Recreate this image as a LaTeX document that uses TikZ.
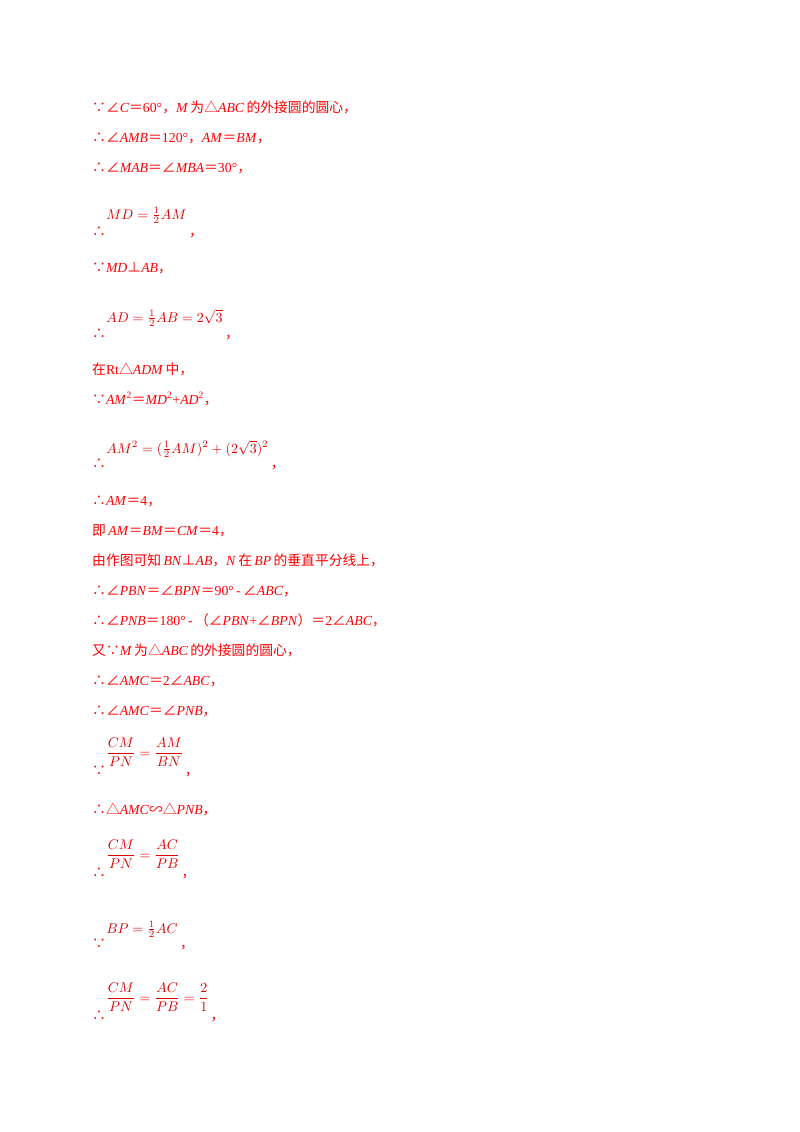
\documentclass[tikz,border=0pt]{standalone}
\usepackage{fontspec}
\usepackage{amsmath}
\setmainfont{Liberation Serif}
\newfontfamily\zh{Noto Sans CJK SC}
\usetikzlibrary{positioning}

\newcommand{\Z}[1]{{\zh #1}}
\newcommand{\I}[1]{\textit{#1}}

\tikzset{
  line/.style={anchor=base west, inner sep=0pt, text=red, font=\fontsize{13.8}{15}\selectfont},
  eqn/.style={anchor=base west, inner sep=0pt, text=red!85!black, scale=1.4},
}

\begin{document}
\begin{tikzpicture}[x=1pt, y=-1pt]
    \useasboundingbox (0, 0) rectangle (800, 1132);

    % plain lines
    \node[line] (l1)  at (92, 112) {\Z{∵}\Z{∠}\I{C}\Z{＝}60°\Z{，}\I{M}\,\Z{为△}\I{ABC}\,\Z{的外接圆的圆心，}};
    \node[line] (l2)  at (92, 142) {\Z{∴∠}\I{AMB}\Z{＝}120°\Z{，}\I{AM}\Z{＝}\I{BM}\Z{，}};
    \node[line] (l3)  at (92, 172) {\Z{∴∠}\I{MAB}\Z{＝∠}\I{MBA}\Z{＝}30°\Z{，}};

    \node[line] (s4)  at (92, 236) {\Z{∴}};
    \node[eqn]  (e4)  at (106, 219) {$MD=\frac{1}{2}AM$};
    \node[line] (c4)  at ([xshift=2pt]e4.east |- s4.base) {\Z{，}};

    \node[line] (l5)  at (92, 272) {\Z{∵}\I{MD}\Z{⊥}\I{AB}\Z{，}};

    \node[line] (s6)  at (92, 338) {\Z{∴}};
    \node[eqn]  (e6)  at (106, 322) {$AD=\frac{1}{2}AB=2\sqrt{3}$};
    \node[line] (c6)  at ([xshift=2pt]e6.east |- s6.base) {\Z{，}};

    \node[line] (l7)  at (92, 374) {\Z{在}Rt\Z{△}\I{ADM}\,\Z{中，}};
    \node[line] (l8)  at (92, 404) {\Z{∵}\I{AM}\textsuperscript{2}\Z{＝}\I{MD}\textsuperscript{2}+\I{AD}\textsuperscript{2}\Z{，}};

    \node[line] (s9)  at (92, 468) {\Z{∴}};
    \node[eqn]  (e9)  at (106, 453) {$AM^2=(\frac{1}{2}AM)^2+(2\sqrt{3})^2$};
    \node[line] (c9)  at ([xshift=2pt]e9.east |- s9.base) {\Z{，}};

    \node[line] (l10) at (92, 505) {\Z{∴}\I{AM}\Z{＝}4\Z{，}};
    \node[line] (l11) at (92, 535) {\Z{即}\,\I{AM}\Z{＝}\I{BM}\Z{＝}\I{CM}\Z{＝}4\Z{，}};
    \node[line] (l12) at (92, 565) {\Z{由作图可知}\,\I{BN}\Z{⊥}\I{AB}\Z{，}\I{N}\,\Z{在}\,\I{BP}\,\Z{的垂直平分线上，}};
    \node[line] (l13) at (92, 595) {\Z{∴∠}\I{PBN}\Z{＝∠}\I{BPN}\Z{＝}90°\,-\,\Z{∠}\I{ABC}\Z{，}};
    \node[line] (l14) at (92, 625) {\Z{∴∠}\I{PNB}\Z{＝}180°\,-\,\Z{（∠}\I{PBN}+\Z{∠}\I{BPN}\Z{）＝}2\Z{∠}\I{ABC}\Z{，}};
    \node[line] (l15) at (92, 655) {\Z{又∵}\I{M}\,\Z{为△}\I{ABC}\,\Z{的外接圆的圆心，}};
    \node[line] (l16) at (92, 685) {\Z{∴∠}\I{AMC}\Z{＝}2\Z{∠}\I{ABC}\Z{，}};
    \node[line] (l17) at (92, 715) {\Z{∴∠}\I{AMC}\Z{＝∠}\I{PNB}\Z{，}};

    \node[line] (s18) at (92, 775) {\Z{∵}};
    \node[eqn]  (e18) at (106, 757) {$\dfrac{CM}{PN}=\dfrac{AM}{BN}$};
    \node[line] (c18) at ([xshift=1pt]e18.east |- s18.base) {\Z{，}};

    \node[line] (l19) at (92, 814) {\Z{∴△}\I{AMC}\Z{∽△}\I{PNB}\Z{，}};

    \node[line] (s20) at (92, 877) {\Z{∴}};
    \node[eqn]  (e20) at (106, 859) {$\dfrac{CM}{PN}=\dfrac{AC}{PB}$};
    \node[line] (c20) at ([xshift=1pt]e20.east |- s20.base) {\Z{，}};

    \node[line] (s21) at (92, 948) {\Z{∵}};
    \node[eqn]  (e21) at (106, 933) {$BP=\frac{1}{2}AC$};
    \node[line] (c21) at ([xshift=2pt]e21.east |- s21.base) {\Z{，}};

    \node[line] (s22) at (92, 1020) {\Z{∴}};
    \node[eqn]  (e22) at (106, 1002) {$\dfrac{CM}{PN}=\dfrac{AC}{PB}=\dfrac{2}{1}$};
    \node[line] (c22) at ([xshift=1pt]e22.east |- s22.base) {\Z{，}};
\end{tikzpicture}
\end{document}
